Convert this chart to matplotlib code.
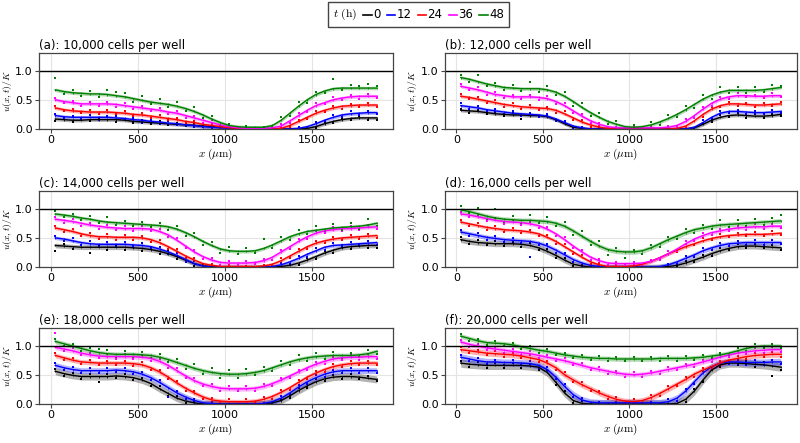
import numpy as np
import matplotlib.pyplot as plt
from matplotlib.lines import Line2D
from matplotlib.offsetbox import AnchoredOffsetbox, HPacker, TextArea, DrawingArea

plt.rcParams['mathtext.fontset'] = 'cm'

# positions along the well (µm)
x_um = [25, 75, 125, 175, 225, 275, 325, 375, 425, 475, 525, 575, 625,
        675, 725, 775, 825, 875, 925, 975, 1025, 1075, 1125, 1175, 1225,
        1275, 1325, 1375, 1425, 1475, 1525, 1575, 1625, 1675, 1725, 1775,
        1825, 1875]

times = ['0', '12', '24', '36', '48']
colors = ['black', 'blue', 'red', 'magenta', 'green']

titles = ['(a): 10,000 cells per well', '(b): 12,000 cells per well',
          '(c): 14,000 cells per well', '(d): 16,000 cells per well',
          '(e): 18,000 cells per well', '(f): 20,000 cells per well']

# values below are u/K in percent; one row per time (0, 12, 24, 36, 48 h)
# ---------------- (a) ----------------
fit_a = [
    [17,16,15,15,16,16,16,16,15,13,12,11,10,9,8,7,6,5,4,3,2,1,0,0,0,0,0,0,0,1,4,9,13,16,18,19,19,19],
    [23,21,20,20,20,20,20,19,18,16,15,13,12,10,9,7,6,4,3,2,1,0,0,0,0,0,0,0,1,4,9,15,20,24,26,27,28,28],
    [36,33,31,30,29,29,29,28,27,25,24,22,20,18,16,13,11,8,6,4,2,1,0,0,0,0,1,6,13,20,27,32,36,39,40,41,41,41],
    [50,47,45,43,43,43,43,42,40,38,36,34,32,29,27,23,19,15,11,7,4,2,1,1,1,2,5,14,23,32,40,45,50,53,55,56,56,56],
    [67,64,62,61,60,60,59,57,55,52,49,46,44,42,39,35,30,24,17,11,6,4,3,3,3,6,15,27,39,50,59,65,69,70,70,70,70,70],
]
obs_a = [
    [14,19,12,17,13,19,20,12,17,10,15,8,13,6,11,5,9,3,6,1,4,0,2,0,1,0,2,0,1,3,2,12,10,19,15,22,16,15],
    [26,18,23,17,24,16,23,22,15,19,11,16,9,13,6,10,3,7,1,4,0,2,0,1,0,0,1,0,3,1,12,13,24,20,30,24,31,25],
    [39,30,34,27,32,26,33,25,30,22,27,19,24,15,19,10,14,5,9,2,4,0,2,0,1,0,3,4,16,17,31,29,39,35,43,38,44,38],
    [53,44,48,40,47,39,46,38,44,34,40,30,36,25,31,19,23,11,15,4,6,1,3,0,2,0,8,11,27,29,44,42,54,50,58,52,60,53],
    [87,60,66,57,65,55,66,63,61,47,56,42,52,38,46,31,37,19,23,7,9,2,5,1,4,3,20,22,47,45,64,61,85,66,75,73,77,74],
]
band_a = [3, 3, 3, 3, 3]

# ---------------- (b) ----------------
fit_b = [
    [32,31,30,28,26,25,24,24,23,23,21,16,9,3,1,0,0,0,0,0,0,0,0,0,0,0,0,2,8,15,20,23,24,23,22,22,23,25],
    [40,38,36,33,31,29,27,26,25,24,22,17,11,5,2,0,0,0,0,0,0,0,0,0,0,0,0,3,11,20,27,30,30,29,28,28,29,30],
    [56,54,51,48,45,42,40,38,37,36,35,32,26,19,12,7,3,1,0,0,0,0,0,0,0,1,5,14,25,34,40,43,43,42,41,41,42,43],
    [73,70,67,63,59,57,55,55,55,54,52,47,40,31,22,14,8,4,2,2,2,2,2,2,3,6,13,23,34,44,51,55,57,57,56,56,57,57],
    [88,85,81,77,74,71,70,69,69,69,67,63,56,47,37,28,20,13,8,4,3,4,7,12,18,25,33,42,51,58,63,66,66,66,66,67,69,71],
]
obs_b = [
    [35,28,33,25,29,22,27,17,26,20,24,13,12,1,3,0,1,0,0,0,0,0,0,0,0,0,1,0,11,12,24,20,27,19,25,19,26,22],
    [44,35,39,30,34,26,30,23,28,21,25,14,14,2,4,0,1,0,0,0,0,0,0,0,0,0,1,1,16,17,31,27,33,26,31,25,32,27],
    [60,51,55,44,49,38,44,35,41,33,38,28,30,15,16,4,5,0,1,0,0,0,0,0,0,3,2,18,21,38,37,47,40,45,38,44,39,46],
    [77,66,71,59,63,53,59,51,59,50,56,43,44,27,26,10,11,2,4,0,4,1,3,0,5,4,17,19,38,40,55,52,61,54,59,53,61,55],
    [92,81,93,73,79,66,76,65,80,64,73,58,63,40,45,22,28,8,14,1,6,2,12,7,24,20,40,36,58,52,71,61,72,62,71,63,75,74],
]
band_b = [3, 3, 3, 3, 3]

# ---------------- (c) ----------------
fit_c = [
    [37,36,35,34,34,34,34,34,34,33,32,30,27,23,18,12,6,2,1,0,0,0,0,0,0,0,1,3,7,12,18,24,29,33,35,36,37,37],
    [50,48,45,42,40,39,39,39,39,38,37,35,31,26,20,13,6,2,0,0,0,0,0,0,0,1,4,9,15,22,28,34,37,38,39,40,41,42],
    [67,64,61,57,54,52,52,51,51,51,50,47,42,35,27,19,12,6,3,1,1,1,1,1,2,5,11,19,27,35,41,45,48,50,51,52,53,54],
    [82,80,78,75,72,70,68,67,66,66,66,65,61,55,46,36,26,18,12,8,7,7,7,8,11,17,26,35,44,52,58,62,64,66,66,67,68,69],
    [91,89,87,84,82,79,77,76,75,74,73,72,71,69,65,59,52,44,37,31,28,27,27,28,32,38,45,52,57,61,63,65,67,68,69,70,72,75],
]
obs_c = [
    [28,40,31,38,25,37,30,38,29,36,28,34,22,27,14,16,2,5,0,1,0,0,0,0,0,1,0,6,4,16,14,28,25,37,31,40,33,33],
    [54,44,49,38,44,35,43,35,43,34,41,31,35,22,24,9,10,0,2,0,0,0,0,0,0,0,7,6,19,18,32,30,41,34,43,36,45,38],
    [71,60,65,53,58,48,56,47,55,47,54,43,46,31,31,15,16,2,6,0,3,0,2,0,4,2,15,15,31,31,45,41,52,46,55,48,57,50],
    [86,76,82,71,76,66,72,63,70,62,70,61,65,51,50,32,30,14,16,4,10,4,10,5,14,13,30,31,48,48,62,58,68,62,70,63,72,65],
    [96,85,91,80,88,75,86,72,79,70,78,68,76,63,70,54,58,38,43,25,34,22,33,24,48,33,51,47,63,56,70,61,73,64,75,66,82,71],
]
band_c = [4, 3, 3, 3, 3]

# ---------------- (d) ----------------
fit_d = [
    [47,44,42,41,40,40,40,39,37,33,27,20,12,5,2,0,0,0,0,0,0,0,0,0,1,3,7,12,17,23,28,32,35,36,36,35,34,33],
    [60,57,54,51,49,47,46,45,44,41,36,29,21,13,7,3,1,0,0,0,0,0,0,1,4,9,15,21,28,33,37,40,41,42,42,42,42,42],
    [77,74,71,68,66,64,63,62,60,57,51,44,35,26,17,9,4,1,1,1,2,5,10,16,23,29,35,40,45,49,52,54,55,56,56,56,57,58],
    [91,89,86,83,80,78,77,76,74,71,65,57,47,36,26,17,11,7,6,6,6,7,10,16,23,31,40,48,54,59,62,65,67,68,69,69,70,70],
    [98,95,91,87,84,82,81,80,80,79,78,75,70,62,53,44,36,30,27,26,26,28,33,40,47,53,59,64,67,70,72,73,74,75,76,77,78,79],
]
obs_d = [
    [51,40,46,37,44,36,43,35,41,29,31,16,15,2,4,0,1,0,0,0,0,0,0,0,2,1,10,9,21,19,32,29,39,33,39,32,37,30],
    [64,53,58,47,53,43,50,41,18,37,40,25,25,9,0,1,2,0,0,0,0,0,0,0,6,6,19,18,32,30,41,36,45,38,46,38,46,39],
    [81,70,75,64,70,60,67,58,64,53,55,40,39,22,21,5,7,0,3,0,4,2,13,13,27,26,39,37,49,46,56,51,59,53,60,53,61,55],
    [95,85,90,79,84,74,81,72,78,67,69,53,51,32,30,13,14,4,8,3,9,4,13,12,27,27,44,45,58,55,66,61,71,64,73,66,74,67],
    [104,93,101,83,100,78,88,76,90,75,86,70,78,55,62,38,44,20,33,16,30,22,38,35,52,48,66,59,72,65,80,68,80,70,82,72,84,90],
]
band_d = [5, 4, 3, 3, 4]

# ---------------- (e) ----------------
fit_e = [
    [56,52,49,47,47,47,47,48,47,45,41,35,26,18,10,5,2,0,0,0,0,0,0,0,0,2,6,14,23,31,38,43,46,47,47,46,44,42],
    [66,62,59,57,57,57,57,58,57,55,51,45,37,28,19,12,6,2,1,0,0,0,0,0,1,4,10,19,29,38,45,51,55,57,57,57,57,57],
    [83,79,75,72,71,70,70,70,70,69,67,62,55,46,36,27,19,12,7,5,4,4,4,5,8,13,20,28,37,46,53,59,64,67,69,70,70,70],
    [97,94,91,87,84,82,81,81,81,81,80,78,73,66,57,48,40,34,30,27,26,26,26,27,30,35,41,48,55,62,68,73,77,79,80,80,81,81],
    [107,103,99,95,91,88,86,85,85,85,84,83,80,76,71,66,61,57,54,52,51,51,52,54,57,62,67,72,76,79,81,82,83,83,83,84,86,90],
]
obs_e = [
    [60,48,53,43,51,37,51,44,52,41,45,31,30,14,14,1,4,0,1,0,0,0,0,0,1,0,9,11,27,27,42,39,50,43,51,42,48,39],
    [70,58,63,53,61,53,61,54,61,51,55,41,41,12,23,8,9,0,3,0,0,0,0,0,2,2,14,15,33,34,49,47,59,53,61,53,61,53],
    [87,75,79,68,75,66,74,66,74,65,71,58,59,42,40,23,23,8,11,1,8,0,8,1,12,9,24,24,41,42,57,55,68,63,73,66,74,66],
    [122,90,95,83,88,78,85,77,85,77,84,74,77,62,61,44,44,30,34,23,30,22,30,23,34,31,45,44,59,58,72,69,81,75,84,76,85,77],
    [112,99,103,91,96,94,92,81,91,80,89,79,86,72,77,60,68,51,61,45,59,45,60,49,63,56,74,66,83,73,87,77,89,78,88,80,92,86],
]
band_e = [6, 5, 4, 4, 4]

# ---------------- (f) ----------------
fit_f = [
    [70,68,67,66,66,66,66,66,65,63,54,37,19,6,1,0,0,0,0,0,0,0,0,0,0,1,8,22,41,58,67,70,70,69,68,67,65,63],
    [80,77,74,72,72,71,71,70,69,66,59,46,30,16,7,3,2,2,2,2,2,2,2,2,4,10,22,38,53,64,70,72,72,71,71,71,72,72],
    [93,91,89,87,86,85,84,82,79,76,70,62,50,41,33,26,19,13,8,5,4,6,11,18,26,34,42,51,58,64,70,75,78,81,83,84,85,85],
    [106,102,99,96,94,92,90,88,86,83,80,77,74,70,66,62,59,56,53,51,50,51,53,56,59,62,65,68,72,76,80,84,87,89,91,92,93,93],
    [116,112,108,105,104,103,101,98,95,92,90,87,84,82,80,79,78,78,77,77,77,77,77,78,78,78,78,79,80,82,84,87,91,95,98,99,99,99],
]
obs_f = [
    [74,64,71,62,70,62,70,62,69,59,58,33,23,2,5,0,1,0,0,0,0,0,0,0,0,0,4,26,37,62,63,74,66,73,64,71,48,58],
    [84,73,78,68,76,67,75,66,73,62,63,42,34,12,11,0,4,0,4,0,4,0,4,0,8,6,26,34,57,60,74,68,76,67,75,67,76,68],
    [98,87,93,83,90,81,88,78,83,72,74,58,54,37,37,22,23,9,12,1,8,2,15,14,30,30,46,47,62,60,74,71,82,77,87,80,89,81],
    [110,98,103,92,98,88,94,84,90,79,84,73,78,66,70,58,63,52,57,47,54,47,57,52,63,58,69,64,76,72,84,80,91,85,95,88,97,89],
    [120,108,112,101,108,99,105,94,99,88,94,83,88,78,84,75,82,74,81,73,81,73,81,74,82,74,82,75,84,78,88,83,95,91,102,95,103,95],
]
band_f = [7, 6, 5, 4, 4]

fits = [fit_a, fit_b, fit_c, fit_d, fit_e, fit_f]
obss = [obs_a, obs_b, obs_c, obs_d, obs_e, obs_f]
bands = [band_a, band_b, band_c, band_d, band_e, band_f]

# ==============================================================
# FIGURE
# ==============================================================

fig = plt.figure(figsize=(8, 4.43), dpi=100)

lefts = [0.049, 0.556]
widths = [0.442, 0.44]
bottoms = [0.7088, 0.397, 0.088]
height = 0.1716

x = np.array(x_um)
for i in range(6):
    r, c = divmod(i, 2)
    ax = fig.add_axes([lefts[c], bottoms[r], widths[c], height])
    ax.grid(True, color='#e4e4e4', lw=0.8)
    ax.set_axisbelow(True)
    for k in range(5):
        f = np.array(fits[i][k]) / 100
        o = np.array(obss[i][k]) / 100
        hw = bands[i][k] / 100
        ax.fill_between(x, f - hw, f + hw, color=colors[k], alpha=0.3, lw=0)
        ax.plot(x, f, color=colors[k], lw=1)
        ax.scatter(x, o, s=3, color=colors[k], marker='s', lw=0)
        ax.scatter(x, f, s=3, color=colors[k], marker='|', lw=0.6)
    ax.axhline(1, color='black', lw=1)
    ax.set_ylim(0, 1.3)
    ax.margins(x=0.05)
    ax.set_yticks([0, 0.5, 1.0])
    ax.set_yticklabels(['0.0', '0.5', '1.0'])
    ax.set_xticks([0, 500, 1000, 1500])
    ax.tick_params(labelsize=8, length=3, width=0.8, color='#444444', pad=1.5)
    for s in ax.spines.values():
        s.set_color('#444444')
        s.set_linewidth(0.9)
    ax.set_title(titles[i], loc='left', fontsize=8.5, pad=3)
    ax.set_xlabel(r'$x\ (\mu\mathrm{m})$', fontsize=8, labelpad=1)
    ax.set_ylabel(r'$u(x,t)/K$', fontsize=7)
    ax.yaxis.set_label_coords(-0.072, 0.5)

# legend with title inline on the left
items = [TextArea(r'$t\ (\mathrm{h})$', textprops=dict(fontsize=8.5))]
for col, lab in zip(colors, times):
    da = DrawingArea(6, 6, 0, 0)
    da.add_artist(Line2D([0, 6], [3, 3], color=col, lw=1.2))
    items.append(HPacker(children=[da, TextArea(lab, textprops=dict(fontsize=8.5))],
                         pad=0, sep=1, align='center'))
box = HPacker(children=items, pad=0, sep=4.5, align='center')
anch = AnchoredOffsetbox(loc='upper center', child=box, pad=0.35, frameon=True,
                         bbox_to_anchor=(0.523, 0.995),
                         bbox_transform=fig.transFigure, borderpad=0)
anch.patch.set_edgecolor('#444444')
fig.add_artist(anch)

fig.savefig('out.png', dpi=100)
